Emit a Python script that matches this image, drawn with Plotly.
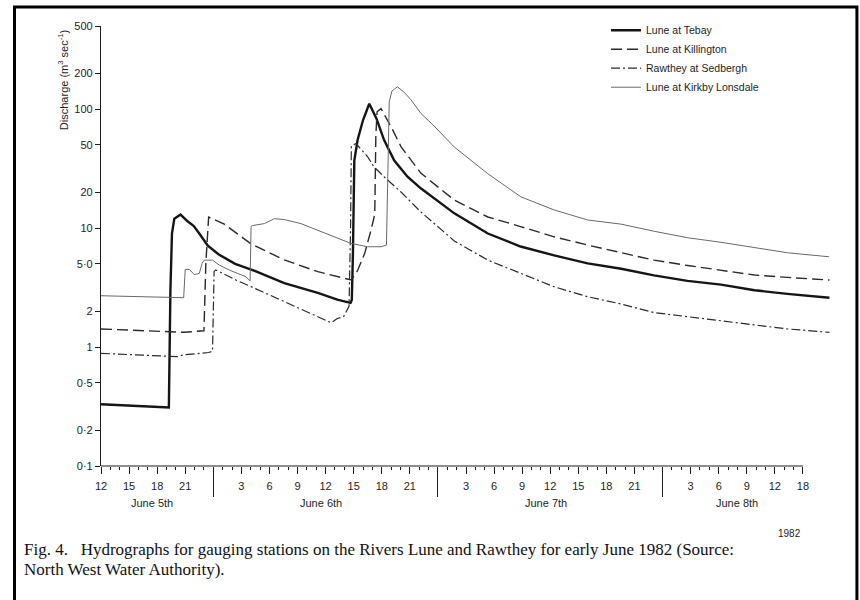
import pandas as pd
import plotly.graph_objects as go

# ---------------- data ----------------
YEAR = "1982-"

TEBAY_T = ["06-05 12:00", "06-05 19:15", "06-05 19:25", "06-05 19:35", "06-05 19:50", "06-05 20:30",
           "06-05 21:15", "06-05 21:55", "06-05 22:30", "06-05 23:25", "06-06 00:35", "06-06 02:20",
           "06-06 04:30", "06-06 07:35", "06-06 11:10", "06-06 13:15", "06-06 14:40", "06-06 14:48",
           "06-06 14:55", "06-06 15:04", "06-06 15:25", "06-06 16:00", "06-06 16:40", "06-06 17:25",
           "06-06 18:15", "06-06 19:20", "06-06 20:45", "06-06 22:10", "06-07 01:45", "06-07 05:20",
           "06-07 08:50", "06-07 12:25", "06-07 16:00", "06-07 19:35", "06-07 23:05", "06-08 02:40",
           "06-08 06:15", "06-08 09:50", "06-08 13:20", "06-08 17:50"]
TEBAY_Q = [0.33, 0.31, 3.0, 9.0, 12.0, 13.0,
           11.4, 10.4, 9.0, 7.1, 6.0, 5.0,
           4.35, 3.45, 2.85, 2.5, 2.35, 2.5,
           6.0, 37, 55, 81, 111, 84,
           55, 37, 27, 21.6, 13.3, 9.0,
           7.0, 5.9, 5.05, 4.55, 4.0, 3.6,
           3.35, 3.0, 2.8, 2.6]

KILL_T = ["06-05 12:00", "06-05 20:50", "06-05 23:00", "06-05 23:12", "06-05 23:30", "06-06 01:10",
          "06-06 04:00", "06-06 07:35", "06-06 11:10", "06-06 14:45", "06-06 15:25", "06-06 16:10",
          "06-06 16:50", "06-06 17:15", "06-06 17:22", "06-06 17:30", "06-06 17:55", "06-06 19:00",
          "06-06 20:05", "06-06 22:10", "06-07 01:45", "06-07 05:20", "06-07 08:50", "06-07 12:25",
          "06-07 16:00", "06-07 19:35", "06-07 23:05", "06-08 02:40", "06-08 06:15", "06-08 09:50",
          "06-08 13:20", "06-08 17:50"]
KILL_Q = [1.42, 1.33, 1.37, 5.0, 12.4, 10.8,
          7.4, 5.4, 4.3, 3.66, 4.4, 6.1,
          9.5, 13, 60, 95, 101, 71,
          48, 29, 17.2, 12.4, 10.3, 8.45,
          7.2, 6.2, 5.38, 4.85, 4.45, 4.03,
          3.85, 3.66]

RAW_T = ["06-05 12:00", "06-05 20:10", "06-05 20:50", "06-05 23:30", "06-05 23:55", "06-06 00:05",
         "06-06 00:15", "06-06 01:00", "06-06 02:25", "06-06 04:30", "06-06 07:35", "06-06 11:10",
         "06-06 12:35", "06-06 13:15", "06-06 13:55", "06-06 14:30", "06-06 14:40", "06-06 14:45",
         "06-06 15:15", "06-06 16:30", "06-06 17:10", "06-06 18:15", "06-06 20:05", "06-06 22:10",
         "06-07 01:45", "06-07 05:20", "06-07 08:50", "06-07 12:25", "06-07 16:00", "06-07 19:35",
         "06-07 23:05", "06-08 02:40", "06-08 06:15", "06-08 09:50", "06-08 13:20", "06-08 17:50"]
RAW_Q = [0.885, 0.83, 0.86, 0.90, 0.92, 4.3,
         4.45, 4.16, 3.66, 3.1, 2.4, 1.8,
         1.6, 1.74, 1.8, 2.2, 10, 49,
         51.4, 39.7, 32.7, 27, 20, 13.7,
         7.8, 5.38, 4.16, 3.21, 2.65, 2.3,
         1.95, 1.8, 1.66, 1.53, 1.42, 1.33]

KIRK_T = ["06-05 12:00", "06-05 20:50", "06-05 21:00", "06-05 21:26", "06-05 21:58", "06-05 22:30",
          "06-05 22:48", "06-05 23:02", "06-05 23:56", "06-06 00:38", "06-06 01:42", "06-06 03:29",
          "06-06 03:56", "06-06 04:02", "06-06 04:10", "06-06 05:27", "06-06 06:31", "06-06 07:35",
          "06-06 09:22", "06-06 11:09", "06-06 13:17", "06-06 14:43", "06-06 16:29", "06-06 17:55",
          "06-06 18:30", "06-06 18:38", "06-06 18:48", "06-06 19:05", "06-06 19:40", "06-06 20:20",
          "06-06 21:07", "06-06 22:11", "06-06 23:36", "06-07 01:45", "06-07 05:19", "06-07 08:52",
          "06-07 12:26", "06-07 16:00", "06-07 19:33", "06-07 23:07", "06-08 02:41", "06-08 06:14",
          "06-08 09:48", "06-08 13:22", "06-08 17:48"]
KIRK_Q = [2.7, 2.6, 4.5, 4.5, 4.07, 4.15,
          5.05, 5.38, 5.38, 4.89, 4.44, 3.9,
          3.6, 10.3, 10.5, 10.9, 12.0, 11.8,
          10.9, 9.6, 8.17, 7.43, 6.97, 6.97,
          7.2, 20, 115, 142, 154, 140,
          120, 92, 72, 48, 28.7, 18.3,
          14.2, 11.7, 10.8, 9.4, 8.3, 7.6,
          6.9, 6.2, 5.74]

SERIES_NAMES = ["Lune at Tebay", "Lune at Killington", "Rawthey at Sedbergh", "Lune at Kirkby Lonsdale"]

Y_TICK_VALS = [0.1, 0.2, 0.5, 1, 2, 5, 10, 20, 50, 100, 200, 500]
Y_TICK_LABELS = ["0·1", "0·2", "0·5", "1", "2", "5·0", "10", "20", "50", "100", "200", "500"]

X_TICK_START = "06-05 12:00"
X_TICK_END = "06-08 15:00"
X_TICK_LABELS = ["12", "15", "18", "21", "", "3", "6", "9", "12", "15", "18", "21", "",
                 "3", "6", "9", "12", "15", "18", "21", "", "3", "6", "9", "12", "18"]
X_RANGE = ["06-05 12:00", "06-08 18:00"]

DAY_LABELS = ["June 5th", "June 6th", "June 7th", "June 8th"]
DAY_LABEL_AT = ["06-05 17:30", "06-06 11:30", "06-07 11:30", "06-08 08:00"]

CAPTION_1 = "Fig. 4.   Hydrographs for gauging stations on the Rivers Lune and Rawthey for early June 1982 (Source:"
CAPTION_2 = "North West Water Authority)."


def ts(s):
    return pd.Timestamp(YEAR + s)


def tlist(lst):
    return [ts(s) for s in lst]


INK = "#1e1e1e"
SANS = "Liberation Sans"

fig = go.Figure()

styles = [
    dict(color="#151515", width=2.4, dash="solid"),
    dict(color="#2a2a2a", width=1.4, dash="11px,5px"),
    dict(color="#2a2a2a", width=1.2, dash="9px,3px,2px,3px"),
    dict(color="#6a6a6a", width=1.0, dash="solid"),
]
for name, t, q, st in zip(SERIES_NAMES, [TEBAY_T, KILL_T, RAW_T, KIRK_T],
                          [TEBAY_Q, KILL_Q, RAW_Q, KIRK_Q], styles):
    fig.add_trace(go.Scatter(x=tlist(t), y=q, mode="lines", name=name, line=st))

# empty traces so the overlay axes (hour ticks, midnight ticks) are drawn
fig.add_trace(go.Scatter(x=[], y=[], xaxis="x2", showlegend=False, hoverinfo="skip"))
fig.add_trace(go.Scatter(x=[], y=[], xaxis="x3", showlegend=False, hoverinfo="skip"))

major_all = pd.date_range(ts(X_TICK_START), ts(X_TICK_END), freq="3h")
major_vals = [v for v, lab in zip(major_all, X_TICK_LABELS) if lab]
major_text = [lab for lab in X_TICK_LABELS if lab]
hourly = pd.date_range(ts(X_TICK_START), ts(X_TICK_END), freq="1h")
midnights = pd.date_range(ts("06-06 00:00"), ts("06-08 00:00"), freq="D")
xr = [ts(X_RANGE[0]), ts(X_RANGE[1])]

common_x = dict(type="date", range=xr, showgrid=False, zeroline=False, showline=False,
                ticks="outside", tickcolor=INK, tickwidth=1)

fig.update_layout(
    width=860, height=600,
    margin=dict(l=101, r=29, t=26, b=134),
    paper_bgcolor="white", plot_bgcolor="white",
    font=dict(family=SANS, size=11, color=INK),
    xaxis=dict(**common_x, tickmode="array", tickvals=major_vals, ticktext=major_text,
               ticklen=7, ticklabelstandoff=3, tickfont=dict(family=SANS, size=11, color=INK)),
    xaxis2=dict(**common_x, overlaying="x", matches="x", anchor="y", side="bottom",
                tickmode="array", tickvals=list(hourly), showticklabels=False, ticklen=3),
    xaxis3=dict(**common_x, overlaying="x", matches="x", anchor="y", side="bottom",
                tickmode="array", tickvals=list(midnights), showticklabels=False, ticklen=30),
    yaxis=dict(type="log", range=[-1, 2.69897], tickmode="array", tickvals=Y_TICK_VALS,
               ticktext=Y_TICK_LABELS, ticks="outside", ticklen=5, tickcolor=INK, tickwidth=1,
               showline=True, linecolor=INK, linewidth=1.2, showgrid=False, zeroline=False,
               tickfont=dict(family=SANS, size=11, color=INK)),
    legend=dict(x=0.6918, y=1.0234, xanchor="left", yanchor="top", bgcolor="rgba(0,0,0,0)",
                font=dict(family=SANS, size=10.5, color=INK), itemwidth=30, tracegroupgap=0),
    showlegend=True,
)

# x axis line (spans the labelled tick range only)
fig.add_shape(type="line", xref="x", yref="paper", x0=major_all[0], x1=major_all[-1], y0=0, y1=0,
              line=dict(color=INK, width=1.2))

# page frame of the scan
fig.add_shape(type="rect", xref="paper", yref="paper", x0=-0.1185, x1=1.0355, y0=-0.4, y1=1.043,
              line=dict(color="black", width=3), layer="above")

ann = []
for lab, at in zip(DAY_LABELS, DAY_LABEL_AT):
    ann.append(dict(x=ts(at), xref="x", y=0, yref="paper", yshift=-37, text=lab, showarrow=False,
                    font=dict(family=SANS, size=11, color=INK), xanchor="center", yanchor="middle"))
ann.append(dict(x=major_all[-1], xref="x", y=0, yref="paper", yshift=-67, text="1982", showarrow=False,
                font=dict(family=SANS, size=10, color=INK), xanchor="right", yanchor="middle"))
ann.append(dict(x=-0.052, xref="paper", y=0.877, yref="paper", text="Discharge (m<sup>3</sup> sec<sup>-1</sup>)",
                textangle=-90, showarrow=False, font=dict(family=SANS, size=11, color=INK),
                xanchor="center", yanchor="middle"))
ann.append(dict(x=-0.108, xref="paper", y=0, yref="paper", yshift=-83, text=CAPTION_1, showarrow=False,
                font=dict(family="Liberation Serif", size=17, color="#111"), xanchor="left", yanchor="middle"))
ann.append(dict(x=-0.108, xref="paper", y=0, yref="paper", yshift=-103, text=CAPTION_2, showarrow=False,
                font=dict(family="Liberation Serif", size=17, color="#111"), xanchor="left", yanchor="middle"))
fig.update_layout(annotations=ann)

fig.write_html("out.html", config={"displayModeBar": False},
               post_script="document.body.style.margin='0';document.body.style.overflow='hidden';")
